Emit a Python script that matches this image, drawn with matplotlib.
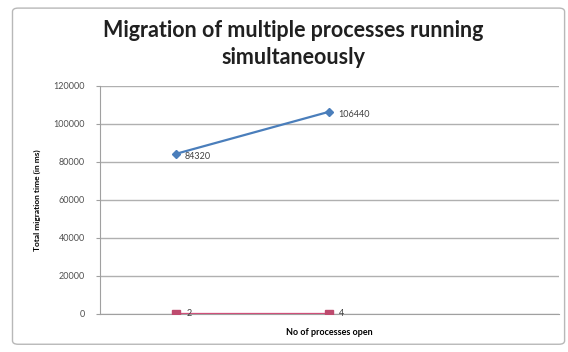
import matplotlib.pyplot as plt
from matplotlib.patches import FancyBboxPatch

# Migration times per number of processes open
categories = ['1', '2', '3']
migration_time = [84320, 106440]
processes_open = [2, 4]
y_ticks = [0, 20000, 40000, 60000, 80000, 100000, 120000]

plt.rcParams['font.family'] = ['Lato', 'DejaVu Sans']

fig = plt.figure(figsize=(5.68, 3.52), dpi=100)
ax = fig.add_axes([0.176, 0.108, 0.808, 0.648])

# chart border
fig.patches.append(FancyBboxPatch((0.022, 0.022), 0.972, 0.955,
                                  boxstyle='round,pad=0,rounding_size=0.01',
                                  transform=fig.transFigure, fill=False,
                                  edgecolor='#b8b8b8', linewidth=1.0))

x = list(range(len(migration_time)))
ax.plot(x, migration_time, color='#4a7ebb', linewidth=1.6, marker='D',
        markersize=4, zorder=3)
ax.plot(x, processes_open, color='#d0507a', linewidth=1.6, marker='s',
        markersize=5.5, markerfacecolor='#be4b6e', markeredgecolor='#be4b6e',
        zorder=3)

for xi, v in zip(x, migration_time):
    ax.annotate(str(v), (xi, v), xytext=(6, -2), textcoords='offset points',
                fontsize=6.5, color='#404040', va='center')
for xi, v in zip(x, processes_open):
    ax.annotate(str(v), (xi, v), xytext=(7, 0), textcoords='offset points',
                fontsize=6.5, color='#404040', va='center')

ax.set_xlim(-0.5, len(categories) - 0.5)
ax.set_ylim(0, 120000)
ax.set_yticks(y_ticks)
ax.set_yticklabels([str(t) for t in y_ticks], fontsize=6.5, color='#505050')
ax.set_xticks([])
ax.tick_params(axis='y', length=3, color='#a0a0a0', pad=8)
ax.grid(axis='y', color='#b0b0b0', linewidth=1.0)
ax.set_axisbelow(True)
for side in ['top', 'right']:
    ax.spines[side].set_visible(False)
ax.spines['left'].set_color('#a0a0a0')
ax.spines['bottom'].set_color('#a0a0a0')

ax.set_ylabel('Total migration time (in ms)', fontsize=6, fontweight='bold',
              labelpad=9)
ax.set_xlabel('No of processes open', fontsize=6.5, fontweight='bold',
              labelpad=10)

fig.text(0.516, 0.876, 'Migration of multiple processes running\nsimultaneously',
         ha='center', va='center', fontsize=15.5, fontweight='bold',
         linespacing=1.35, color='#202020')

plt.savefig('out.png', dpi=100)
